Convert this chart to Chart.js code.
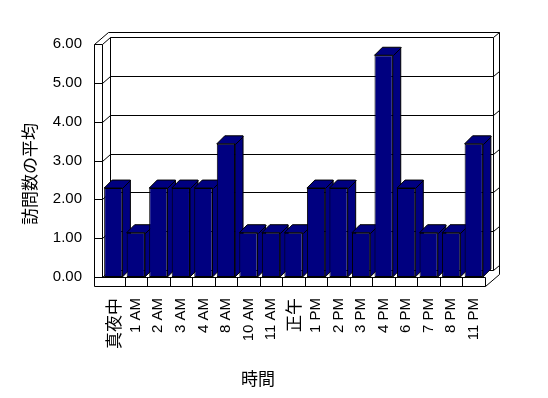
<!DOCTYPE html>
<html>
<head>
<meta charset="utf-8">
<script src="https://cdn.jsdelivr.net/npm/chart.js@4.4.1/dist/chart.umd.min.js"></script>
<style>
html, body { margin: 0; padding: 0; background: #fff; }
</style>
</head>
<body>
<canvas id="cvs" width="548" height="398"></canvas>
<script>
// data
var hours = ["真夜中", "1 AM", "2 AM", "3 AM", "4 AM", "8 AM", "10 AM", "11 AM", "正午",
	"1 PM", "2 PM", "3 PM", "4 PM", "6 PM", "7 PM", "8 PM", "11 PM"];
var avgVisits = [2.29, 1.14, 2.29, 2.29, 2.29, 3.43, 1.14, 1.14, 1.14,
	2.29, 2.29, 1.14, 5.71, 2.29, 1.14, 1.14, 3.43];
var yTicks = [0, 1, 2, 3, 4, 5, 6];
var xTitle = "時間";
var yTitle = "訪問数の平均";

var latin = '"Liberation Sans", Arial, sans-serif';
var cjk = '"Noto Sans CJK JP", sans-serif';

// depth of the plot box, wall/floor thickness, bar depth
var DX = 8, DY = 7, BTX = 6, BTY = 5, FT = 9, WT = 8, BDX = 8, BDY = 8;

function seg(ctx, x1, y1, x2, y2) {
	ctx.beginPath();
	ctx.moveTo(Math.round(x1) + 0.5, Math.round(y1) + 0.5);
	ctx.lineTo(Math.round(x2) + 0.5, Math.round(y2) + 0.5);
	ctx.stroke();
}

var frame3d = {
	id: "frame3d",
	beforeDatasetsDraw: function(chart) {
		var ctx = chart.ctx, a = chart.chartArea;
		var ys = chart.scales.y, xs = chart.scales.x;
		var L = a.left, R = a.right;
		var Y0 = ys.getPixelForValue(0), Y6 = ys.getPixelForValue(yTicks[yTicks.length - 1]);
		ctx.save();
		ctx.strokeStyle = "#000";
		ctx.lineWidth = 1;
		// wall gridlines
		for (let v of yTicks) {
			let yf = ys.getPixelForValue(v);
			if (v > 0) seg(ctx, L - WT, yf, L, yf);
			seg(ctx, L, yf, L + DX, yf - DY);
			seg(ctx, L + DX, yf - DY, R + DX, yf - DY);
			seg(ctx, R + DX, yf - DY, R + DX + BTX, yf - DY - BTY);
		}
		// left wall
		seg(ctx, L - WT, Y6, L - WT, Y0 + FT);
		seg(ctx, L, Y6, L, Y0);
		seg(ctx, L - WT, Y6, L - WT + DX + BTX, Y6 - DY - BTY);
		seg(ctx, L - WT + DX + BTX, Y6 - DY - BTY, R + DX + BTX, Y6 - DY - BTY);
		// back wall edges
		seg(ctx, L + DX, Y6 - DY, L + DX, Y0 - DY);
		seg(ctx, R + DX, Y6 - DY, R + DX, Y0 - DY);
		seg(ctx, R + DX + BTX, Y6 - DY - BTY, R + DX + BTX, Y0 + FT - DY - BTY);
		// floor
		seg(ctx, L - WT, Y0, R, Y0);
		seg(ctx, L - WT, Y0 + FT, R, Y0 + FT);
		seg(ctx, R, Y0, R, Y0 + FT);
		seg(ctx, R, Y0 + FT, R + DX + BTX, Y0 + FT - DY - BTY);
		for (let i = 1; i < hours.length; i++) {
			let xb = (xs.getPixelForValue(i - 1) + xs.getPixelForValue(i)) / 2;
			seg(ctx, xb, Y0, xb, Y0 + FT);
		}
		// bar tops and sides
		ctx.fillStyle = "#000080";
		for (let el of chart.getDatasetMeta(0).data) {
			let p = el.getProps(["x", "y", "base", "width"], true);
			let l = p.x - p.width / 2, r = p.x + p.width / 2;
			ctx.beginPath();
			ctx.moveTo(l, p.y);
			ctx.lineTo(l + BDX, p.y - BDY);
			ctx.lineTo(r + BDX, p.y - BDY);
			ctx.lineTo(r + BDX, p.base - BDY);
			ctx.lineTo(r, p.base);
			ctx.lineTo(r, p.y);
			ctx.closePath();
			ctx.fill();
			ctx.stroke();
			seg(ctx, r, p.y, r + BDX, p.y - BDY);
		}
		ctx.restore();
	},
	afterDraw: function(chart) {
		var ctx = chart.ctx;
		ctx.save();
		ctx.fillStyle = "#000";
		ctx.font = "17px " + cjk;
		ctx.textAlign = "center";
		ctx.textBaseline = "middle";
		ctx.fillText(xTitle, 258, 379);
		ctx.translate(30, 174);
		ctx.rotate(-Math.PI / 2);
		ctx.fillText(yTitle, 0, 0);
		ctx.restore();
	}
};

var config = {
	type: "bar",
	data: {
		labels: hours,
		datasets: [{
			data: avgVisits,
			backgroundColor: "#000080",
			borderColor: "#000",
			borderWidth: 1,
			borderSkipped: false,
			barPercentage: 0.81,
			categoryPercentage: 1
		}]
	},
	options: {
		responsive: false,
		animation: false,
		devicePixelRatio: 1,
		layout: { padding: { top: 44, right: 63, left: 0, bottom: 0 } },
		plugins: { legend: { display: false }, tooltip: { enabled: false } },
		scales: {
			x: {
				grid: { display: false, drawTicks: false },
				border: { display: false },
				ticks: {
					autoSkip: false,
					minRotation: 90,
					maxRotation: 90,
					padding: 21,
					color: "#000",
					font: function(c) {
						let s = hours[c.index] || "";
						return /[^\x00-\x7f]/.test(s) ? { family: cjk, size: 17 } : { family: latin, size: 15 };
					}
				},
				afterFit: function(s) { s.height = 121; }
			},
			y: {
				min: 0,
				max: 6,
				grid: { display: false, drawTicks: false },
				border: { display: false },
				ticks: {
					stepSize: 1,
					padding: 20,
					color: "#000",
					font: { family: latin, size: 15 },
					callback: function(v) { return v.toFixed(2); }
				},
				afterFit: function(s) { s.width = 102; }
			}
		}
	},
	plugins: [frame3d]
};

var chart = new Chart("cvs", config);
</script>
</body>
</html>
